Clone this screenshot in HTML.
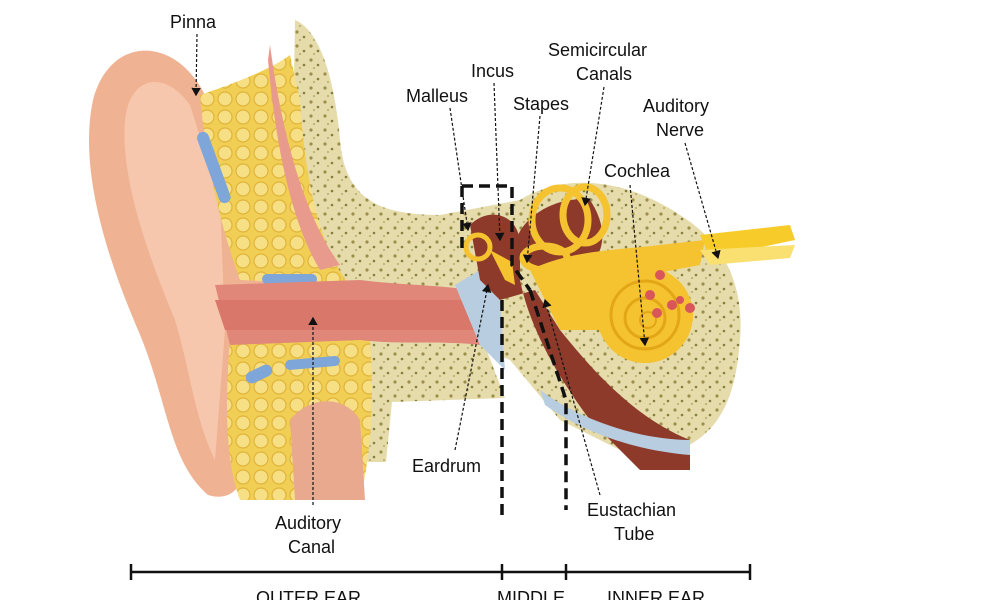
<!DOCTYPE html>
<html><head><meta charset="utf-8"><style>
html,body{margin:0;padding:0;background:#fff;}
svg{display:block;}
text{font-family:"Liberation Sans",Arial,sans-serif;font-size:18px;fill:#111;}
</style></head><body>
<svg width="1000" height="600" viewBox="0 0 1000 600" xmlns="http://www.w3.org/2000/svg">
<defs>
<pattern id="bone" width="14" height="14" patternUnits="userSpaceOnUse">
<rect width="14" height="14" fill="#e6dbab"/>
<circle cx="3" cy="4" r="1.6" fill="#9c8f4a"/><circle cx="10" cy="9" r="1.3" fill="#857f3e"/><circle cx="6" cy="12" r="1" fill="#b5a865"/>
</pattern>
<pattern id="fat" width="18" height="18" patternUnits="userSpaceOnUse">
<rect width="18" height="18" fill="#f1cf55"/>
<circle cx="9" cy="9" r="7" fill="#f7df86" stroke="#e0b43a" stroke-width="1.2"/>
</pattern>
<marker id="ar" markerWidth="8" markerHeight="8" refX="6" refY="4" orient="auto"><path d="M0,0 L7,4 L0,8 Z" fill="#111"/></marker>
</defs>
<!-- bone -->
<path d="M295,20 C320,30 335,80 340,140 C345,200 380,215 440,215 L520,200 C560,175 620,175 680,215 C720,240 745,280 740,340 C735,400 720,450 640,460 L560,420 L510,360 L470,345 L390,345 L380,460 L300,470 L290,300 Z" fill="url(#bone)"/>
<path d="M370,338 L482,338 L505,398 L392,402 L386,462 L368,462 Z" fill="url(#bone)"/>
<!-- pinna -->
<path d="M205,95 C175,35 110,35 93,100 C78,170 108,260 138,330 C168,400 168,460 208,495 C240,505 250,470 240,450 L240,330 L300,290 L240,260 C212,200 208,140 205,95 Z" fill="#efb292"/>
<path d="M190,105 C165,70 130,75 125,120 C120,180 150,260 175,320 C190,370 195,420 215,460 L225,330 L220,200 Z" fill="#f6c7ad"/>
<!-- fat -->
<path d="M200,95 C230,85 270,70 290,55 L300,100 C305,180 320,250 350,285 L240,280 C215,210 205,150 200,95 Z" fill="url(#fat)"/>
<path d="M230,340 L370,340 C375,400 370,460 360,500 L240,500 C225,460 225,400 230,340 Z" fill="url(#fat)"/>
<path d="M290,420 C310,395 345,395 360,420 L365,500 L295,500 Z" fill="#e9a98f"/>
<path d="M270,45 C280,120 300,210 340,265 L320,270 C290,220 275,140 268,60 Z" fill="#e89a8c"/>
<rect x="208" y="130" width="12" height="75" rx="6" fill="#7fa6d8" transform="rotate(-20 214 168)"/>
<rect x="262" y="274" width="55" height="10" rx="5" fill="#7fa6d8"/>
<rect x="285" y="358" width="55" height="10" rx="5" fill="#7fa6d8" transform="rotate(-5 312 363)"/>
<rect x="245" y="368" width="28" height="12" rx="6" fill="#7fa6d8" transform="rotate(-25 259 374)"/>
<!-- canal -->
<path d="M215,285 L360,280 C400,285 440,285 470,290 L480,345 C440,340 400,345 360,340 L230,345 Z" fill="#e0877a"/>
<path d="M215,300 L470,300 L475,330 L225,330 Z" fill="#d9776a"/>
<path d="M455,285 L480,270 L500,300 L505,370 L480,345 Z" fill="#b9cde0"/>
<!-- middle ear -->
<path d="M470,225 C490,205 520,215 520,245 L520,280 C530,330 560,380 590,420 L640,470 L690,470 L690,440 C640,420 600,380 560,330 L535,290 L500,300 L480,280 Z" fill="#8e3a2b"/>
<path d="M540,390 C580,420 640,440 690,440 L690,455 C630,450 580,430 545,405 Z" fill="#b9cde0"/>
<path d="M515,245 C520,215 560,195 590,200 C610,230 605,260 580,270 L540,285 Z" fill="#8e3a2b"/>
<circle cx="478" cy="247" r="12" fill="none" stroke="#f5c230" stroke-width="5"/>
<path d="M490,250 L512,262 L515,285 L505,280 Z" fill="#f5c230"/>
<!-- inner ear -->
<ellipse cx="560" cy="220" rx="28" ry="32" fill="none" stroke="#f5c230" stroke-width="7"/>
<ellipse cx="585" cy="215" rx="22" ry="28" fill="none" stroke="#f5c230" stroke-width="7"/>
<ellipse cx="545" cy="258" rx="22" ry="12" fill="none" stroke="#f5c230" stroke-width="7"/>
<path d="M530,270 C570,250 620,250 660,245 L705,240 L700,265 L620,280 L600,330 L560,330 Z" fill="#f5c230"/>
<circle cx="645" cy="315" r="48" fill="#f5c230"/>
<circle cx="645" cy="315" r="34" fill="none" stroke="#e3a615" stroke-width="3"/>
<circle cx="645" cy="318" r="20" fill="none" stroke="#e3a615" stroke-width="3"/>
<circle cx="648" cy="320" r="8" fill="none" stroke="#e3a615" stroke-width="2"/>
<g fill="#d9565a"><circle cx="660" cy="275" r="5"/><circle cx="650" cy="295" r="5"/><circle cx="657" cy="313" r="5"/><circle cx="672" cy="305" r="5"/><circle cx="690" cy="308" r="5"/><circle cx="680" cy="300" r="4"/></g>
<path d="M700,235 L790,225 L795,240 L710,258 Z" fill="#f7cc2a"/>
<path d="M700,250 L795,245 L790,258 L710,265 Z" fill="#fae070"/>
<!-- dashed box -->
<g fill="none" stroke="#111" stroke-width="3.5" stroke-dasharray="11,6">
<path d="M462,186 L512,186 L512,265 L530,290"/>
<path d="M462,186 L462,250"/>
<path d="M502,300 L502,517"/>
<path d="M530,290 L566,400 L566,510"/>
</g>
<!-- leaders -->
<g stroke="#111" stroke-width="1.2" stroke-dasharray="3,2" fill="none" marker-end="url(#ar)">
<line x1="197" y1="34" x2="196" y2="95"/>
<line x1="450" y1="108" x2="468" y2="230"/>
<line x1="494" y1="83" x2="500" y2="240"/>
<line x1="540" y1="116" x2="527" y2="262"/>
<line x1="604" y1="87" x2="585" y2="205"/>
<line x1="685" y1="143" x2="718" y2="258"/>
<line x1="630" y1="185" x2="645" y2="345"/>
<line x1="313" y1="505" x2="313" y2="318"/>
<line x1="455" y1="450" x2="488" y2="285"/>
<line x1="600" y1="495" x2="545" y2="300"/>
</g>
<!-- labels -->
<text x="170" y="28">Pinna</text>
<text x="471" y="77">Incus</text>
<text x="406" y="102">Malleus</text>
<text x="513" y="110">Stapes</text>
<text x="548" y="56">Semicircular</text>
<text x="576" y="80">Canals</text>
<text x="643" y="112">Auditory</text>
<text x="656" y="136">Nerve</text>
<text x="604" y="177">Cochlea</text>
<text x="412" y="472">Eardrum</text>
<text x="587" y="516">Eustachian</text>
<text x="614" y="540">Tube</text>
<text x="275" y="529">Auditory</text>
<text x="288" y="553">Canal</text>
<!-- scale -->
<g stroke="#111" stroke-width="2.5">
<line x1="131" y1="572" x2="750" y2="572"/>
<line x1="131" y1="564" x2="131" y2="580"/>
<line x1="502" y1="564" x2="502" y2="580"/>
<line x1="566" y1="564" x2="566" y2="580"/>
<line x1="750" y1="564" x2="750" y2="580"/>
</g>
<text x="256" y="604">OUTER EAR</text>
<text x="497" y="604">MIDDLE</text>
<text x="607" y="604">INNER EAR</text>
</svg>
</body></html>
